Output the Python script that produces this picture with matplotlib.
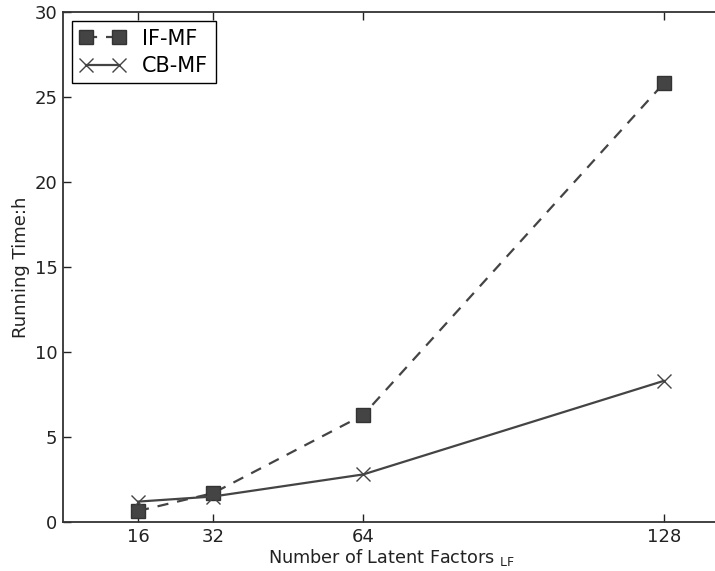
import matplotlib
matplotlib.use('Agg')
import matplotlib.pyplot as plt

# running time (hours) vs. number of latent factors
factors = [16, 32, 64, 128]
if_mf = [0.65, 1.7, 6.3, 25.8]
cb_mf = [1.2, 1.5, 2.8, 8.3]
y_ticks = [0, 5, 10, 15, 20, 25, 30]

line_color = '#444444'

fig = plt.figure(figsize=(7.15, 5.71), dpi=100)
ax = fig.add_axes([63 / 715, 49 / 571, 657 / 715, 510 / 571])

ax.plot(factors, if_mf, linestyle='--', dashes=(5, 4), color=line_color, lw=1.6,
        marker='s', markersize=10, markerfacecolor='#444444',
        markeredgecolor='#333333', label='IF-MF')
ax.plot(factors, cb_mf, linestyle='-', color=line_color, lw=1.6,
        marker='x', markersize=10, markeredgewidth=1.0,
        markeredgecolor='#444444', label='CB-MF')

ax.set_xlim(0, 140)
ax.set_ylim(0, 30)
ax.set_xticks(factors)
ax.set_yticks(y_ticks)
ax.tick_params(direction='in', top=True, right=False, length=6, width=1,
               labelsize=13, colors='#222222', pad=4)
for s in ax.spines.values():
    s.set_color('#333333')
    s.set_linewidth(1.3)

ax.set_xlabel(r'Number of Latent Factors $_{\mathrm{LF}}$', fontsize=12.7,
              color='#222222', labelpad=1)
ax.set_ylabel('Running Time:h', fontsize=13, color='#222222', labelpad=3)

leg = ax.legend(loc='upper left', numpoints=2, fontsize=15, fancybox=False,
                framealpha=1, edgecolor='black', handlelength=2.2,
                borderpad=0.35, labelspacing=0.35, borderaxespad=0.45)
leg.get_frame().set_linewidth(1.0)

fig.savefig('out.png', dpi=100, facecolor='white')
